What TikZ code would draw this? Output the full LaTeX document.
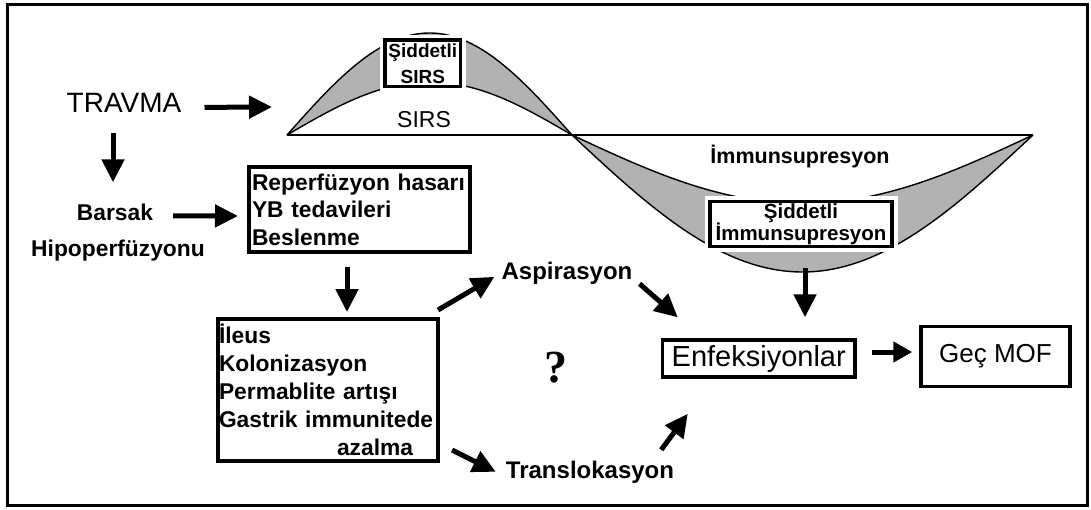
\documentclass[tikz,border=0pt]{standalone}
\usepackage{fontspec}
\setmainfont{Liberation Sans}
\newfontfamily\qfont{Liberation Serif}
\usetikzlibrary{arrows.meta,calc}

\newcommand{\fsz}[2]{\fontsize{#1}{#2}\selectfont}

\begin{document}
\begin{tikzpicture}[x=1pt, y=-1pt,
  box/.style={draw, line width=4pt, fill=white, inner sep=0pt, align=left},
  sbox/.style={draw, line width=3.5pt, fill=white, inner sep=0pt, align=center,
               preaction={draw=white, line width=11pt}},
  lbl/.style={inner sep=0pt, anchor=base},
  arr/.style={-{Triangle[length=23pt,width=22pt]}, line width=5pt},
  lens/.style={fill=black!30},
  wave/.style={line width=1.4pt, line join=round}
]
  \useasboundingbox (0,0) rectangle (1091,509);
  \draw[line width=3pt] (7,4) rectangle (1087,505);

  \fill[lens] plot[domain=287:572, samples=80] (\x, {135-102*sin((\x-287)/285*180)})
    -- plot[domain=572:287, samples=80] (\x, {135-53*sin((\x-287)/285*180)}) -- cycle;
  \fill[lens] plot[domain=572:1033, samples=100] (\x, {135+137*sin((\x-572)/461*180)})
    -- plot[domain=1033:572, samples=100] (\x, {135+68.5*sin((\x-572)/461*180)}) -- cycle;
  \draw[wave] plot[domain=287:572, samples=80] (\x, {135-102*sin((\x-287)/285*180)});
  \draw[wave] plot[domain=287:572, samples=80] (\x, {135-53*sin((\x-287)/285*180)});
  \draw[wave] plot[domain=572:1033, samples=100] (\x, {135+137*sin((\x-572)/461*180)});
  \draw[wave] plot[domain=572:1033, samples=100] (\x, {135+68.5*sin((\x-572)/461*180)});
  \draw[wave] (287,135) -- (1033,135);
  \coordinate (sirsin) at (272,107);
  \coordinate (immout) at (805,268);

  \node[sbox, font=\bfseries\fsz{19}{26}, minimum width=75.5pt, minimum height=46.5pt] (ssirs) at (422.75,63.25) {Şiddetli\\SIRS};
  \node[sbox, font=\bfseries\fsz{20.5}{22}, minimum width=182pt, minimum height=45pt] (simm) at (801,224) {Şiddetli\\İmmunsupresyon};
  \node[lbl, font=\fsz{23}{25}] (sirs) at (424,127) {SIRS};
  \node[lbl, font=\bfseries\fsz{21.5}{24}] (immu) at (800,163) {İmmunsupresyon};

  \node[lbl, font=\fsz{28}{30}] (trav) at (124,112) {TRAVMA};
  \node[lbl, font=\bfseries\fsz{22.8}{24}] (bars) at (115,220) {Barsak};
  \node[lbl, font=\bfseries\fsz{22.8}{24}] (hipo) at (118,256) {Hipoperfüzyonu};
  \node[box, font=\bfseries\fsz{22.8}{27.5}, text width=215pt, inner xsep=3pt, minimum height=85pt] (repo) at (359.5,209.5) {Reperfüzyon hasarı\\YB tedavileri\\Beslenme};
  \node[box, font=\bfseries\fsz{22.8}{28}, text width=217.5pt, inner xsep=1.5pt, minimum height=142pt] (ileus) at (327.75,390) {İleus\\Kolonizasyon\\Permablite artışı\\Gastrik immunitede\\\hspace*{118pt}azalma};
  \node[lbl, font=\bfseries\fsz{24}{26}] (asp) at (567,279) {Aspirasyon};
  \node[lbl, font=\bfseries\fsz{24}{26}] (trans) at (590,478) {Translokasyon};
  \node[lbl, font=\qfont\bfseries\fsz{46}{48}] (qm) at (556,382) {?};
  \node[box, line width=3.5pt, align=center, font=\fsz{29}{31}, minimum width=192.5pt, minimum height=37pt] (enf) at (758.75,358.5) {Enfeksiyonlar};
  \node[box, line width=3.5pt, align=center, font=\fsz{26}{28}, minimum width=149pt, minimum height=60pt] (mof) at (995.5,356.5) {Geç MOF};

  \draw[arr] ($(trav.east)+(23,5)$) -- (sirsin);
  \draw[arr] ($(trav.south)+(-11,21)$) -- ($(bars.north)+(-2,-21)$);
  \draw[arr] ($(bars.east)+(20,4)$) -- ($(repo.west)+(-9,6.5)$);
  \draw[arr] ($(repo.south)+(-12.5,13)$) -- ($(ileus.north)+(19.25,-5)$);
  \draw[arr] ($(ileus.north east)+(-2,-7)$) -- ($(asp.west)+(-7,4)$);
  \draw[arr] ($(ileus.south east)+(12,-13)$) -- ($(trans.west)+(-10,0)$);
  \draw[arr] ($(asp.east)+(7,11)$) -- ($(enf.north west)+(17,-21)$);
  \draw[arr] ($(trans.east)+(-13,-22)$) -- ($(enf.south west)+(27,35)$);
  \draw[arr] (immout) -- ($(enf.north)+(46.25,-21)$);
  \draw[arr, -{Triangle[length=19pt,width=20pt]}] ($(enf.east)+(15,-6.5)$) -- ($(mof.west)+(-7,-4.5)$);
\end{tikzpicture}
\end{document}
